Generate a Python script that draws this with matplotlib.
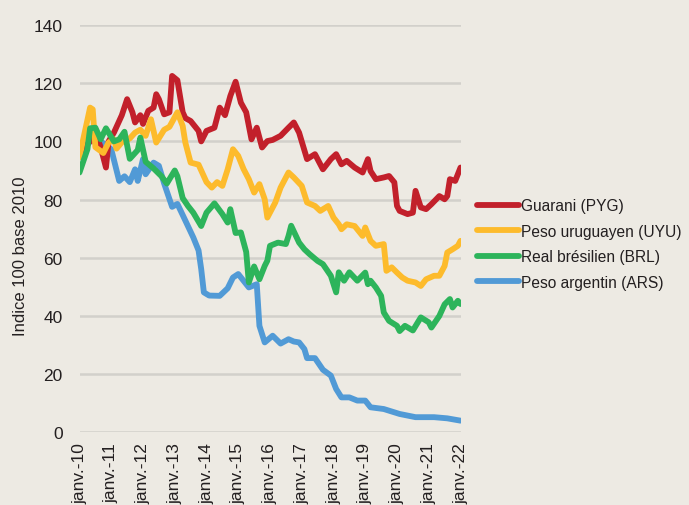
import numpy as np
import matplotlib.pyplot as plt

plt.rcParams['font.family'] = ['Liberation Sans', 'DejaVu Sans']

# month index (0 = janv. 2010) and index values
tick_labels = ['janv.-10', 'janv.-11', 'janv.-12', 'janv.-13', 'janv.-14', 'janv.-15', 'janv.-16',
               'janv.-17', 'janv.-18', 'janv.-19', 'janv.-20', 'janv.-21', 'janv.-22']

pyg_m = [0, 2, 4, 6, 8, 10, 11, 13, 14, 16, 18, 20, 21, 23, 24, 26, 28, 29, 30, 32, 34, 35, 37, 39,
         40, 42, 45, 46, 48, 51, 53, 55, 57, 59, 61, 63, 65, 67, 69, 71, 73, 76, 79, 81, 83, 86, 89,
         92, 95, 97, 99, 101, 104, 107, 109, 110, 112, 115, 117, 119, 120, 121, 124, 126, 127, 129,
         131, 133, 136, 138, 139, 140, 142, 144]
pyg = [95.5, 98, 100, 103, 98, 91, 100, 103, 105, 109, 114.5, 110, 106.5, 109, 106, 110.5, 111.6,
       116.2, 114.5, 109.3, 110, 122.5, 121, 110, 108, 107, 103.6, 100, 103.6, 104.7, 111.6, 109,
       115.6, 120.5, 113.3, 110, 100.7, 104.7, 97.9, 100.1, 100.5, 101.9, 104.7, 106.5, 103, 93.9,
       95.6, 90.4, 93.9, 95.6, 92.1, 93.3, 91, 89.3, 93.9, 89.8, 87, 87.6, 88.1, 85.9, 77.8, 76.1,
       75, 75.5, 83, 77.3, 76.7, 78.4, 81.2, 80.1, 81.2, 87, 86.4, 91]

uyu_m = [0, 1, 4, 5, 6, 9, 11, 13, 14, 16, 19, 21, 23, 25, 27, 29, 32, 34, 37, 39, 40, 42, 45, 47,
         48, 50, 52, 54, 56, 58, 60, 62, 64, 66, 68, 70, 71, 74, 76, 79, 81, 84, 86, 89, 91, 94, 96,
         98, 99, 101, 104, 107, 108, 110, 112, 115, 116, 118, 120, 122, 124, 127, 129, 131, 134, 136,
         138, 139, 141, 143, 144]
uyu = [94.5, 99, 111.6, 111, 98, 96, 99.6, 100.7, 97.5, 99.7, 101, 103, 104, 101.9, 107.6, 99.6, 104,
       105, 110, 105.3, 99.6, 92.7, 92, 88, 86, 84.1, 86, 84.7, 90.4, 97.3, 95, 90.5, 87, 82.4, 85.3,
       80.1, 73.8, 79, 84.1, 89.3, 87.6, 84.7, 79, 77.8, 76.1, 77.8, 73.8, 71.5, 69.8, 71.5, 70.9,
       67.5, 70.4, 65.8, 64.1, 64.7, 55.5, 56.7, 54.9, 53.2, 52.1, 51.5, 50.3, 52.6, 53.8, 53.8, 57.2,
       61.8, 62.9, 64.1, 65.8]

brl_m = [0, 3, 4, 6, 8, 10, 13, 15, 17, 19, 22, 23, 25, 28, 31, 33, 36, 37, 39, 41, 43, 46, 48, 51,
         54, 56, 57, 59, 61, 63, 64, 66, 68, 70, 71, 72, 75, 78, 79, 80, 83, 85, 87, 90, 92, 95, 97,
         98, 100, 102, 105, 108, 109, 110, 112, 114, 115, 117, 120, 121, 123, 126, 129, 132, 133, 136,
         138, 140, 141, 143, 144]
brl = [89.3, 97.3, 104.5, 104.7, 100.7, 104.5, 100, 100.7, 103.3, 94, 97, 101.3, 93, 90.7, 88, 85.5,
       90, 88, 80.5, 77.8, 75.5, 70.9, 75.5, 78.7, 75, 72.1, 76.7, 68.5, 68.7, 62, 51.5, 57, 52.6,
       57.2, 59, 64.1, 65.2, 64.7, 67.5, 71, 65.2, 62.9, 61.2, 58.9, 57.8, 53.8, 48.1, 55, 52.1, 55,
       52.1, 54.9, 50.9, 52.1, 49.8, 46.9, 41.2, 38.3, 36.6, 34.8, 36.6, 35, 39.5, 37.8, 36, 40, 44,
       45.8, 42.9, 45.2, 44.1]

ars_m = [0, 4, 8, 11, 12, 15, 17, 19, 21, 22, 24, 25, 28, 30, 32, 35, 37, 39, 43, 45, 46, 47, 49, 53,
         56, 58, 60, 62, 64, 67, 68, 70, 73, 76, 79, 81, 83, 85, 86, 89, 92, 95, 97, 99, 102, 105,
         108, 110, 115, 121, 127, 134, 139, 144]
ars = [97, 100, 100, 98, 97.3, 86.4, 88, 86, 90.4, 86.4, 93.9, 88.7, 92.7, 91.6, 85.5, 77.5, 78.5,
       74.7, 67, 62.5, 56.1, 48.1, 47, 46.9, 49.5, 53.2, 54.4, 52.1, 49.8, 50.9, 36.6, 30.9, 33.2,
       30.5, 32, 31.2, 30.9, 28.6, 25.5, 25.5, 21.5, 19.5, 14.9, 12, 12, 10.9, 10.9, 8.6, 8, 6.3, 5.2,
       5.2, 4.8, 4]

bg = '#EDEAE3'
txt = '#231F20'
fig = plt.figure(figsize=(6.89, 5.06), dpi=100, facecolor=bg)
ax = fig.add_axes([79.5 / 689, 1 - 433.3 / 506, 381 / 689, 407.3 / 506])
ax.set_facecolor(bg)

series = [
    (pyg_m, pyg, '#C2202B', 'Guarani (PYG)', 2),
    (uyu_m, uyu, '#FDBB2C', 'Peso uruguayen (UYU)', 3),
    (brl_m, brl, '#2DB45B', 'Real brésilien (BRL)', 4),
    (ars_m, ars, '#519AD6', 'Peso argentin (ARS)', 1),
]
for m, v, col, lab, z in series:
    ax.plot(m, v, color=col, lw=4.2, label=lab, zorder=z,
            solid_joinstyle='round', solid_capstyle='round')

ax.set_xlim(0, 144)
ax.set_ylim(0, 140)
ax.set_yticks(np.arange(0, 141, 20))
ax.set_xticks(np.arange(0, 145, 12))
ax.set_xticklabels(tick_labels, rotation=90, fontsize=12.5, color=txt)
ax.tick_params(axis='y', labelsize=12.5, labelcolor=txt, length=0, pad=12)
ax.tick_params(axis='x', length=0, pad=7)
ax.grid(axis='y', color='#D2D0CB', lw=1.8)
ax.set_axisbelow(True)
for s in ax.spines.values():
    s.set_visible(False)

fig.text(21 / 689, 1 - 256 / 506, 'Indice 100 base 2010', rotation=90,
         ha='center', va='center', fontsize=12, color=txt)

leg = ax.legend(loc='center left', bbox_to_anchor=(477 / 689, 1 - 245 / 506),
                bbox_transform=fig.transFigure, frameon=False, fontsize=11.2,
                handlelength=2.7, handletextpad=0.15, labelspacing=0.68,
                borderpad=0, borderaxespad=0)
for line in leg.get_lines():
    line.set_linewidth(4.2)
for t in leg.get_texts():
    t.set_color(txt)

fig.savefig('out.png', dpi=100, facecolor=bg)
